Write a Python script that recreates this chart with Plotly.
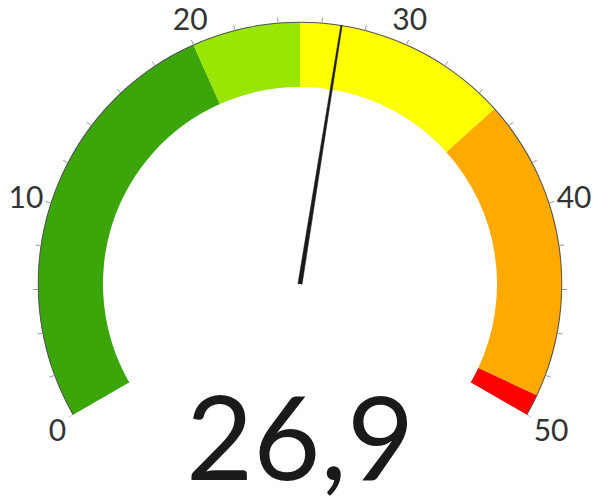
import plotly.graph_objects as go

# gauge data
gauge_min = 0
gauge_max = 50
value = 26.9

band_starts = [0, 20, 25, 35, 49]
band_ends = [20, 25, 35, 49, 50]
band_colors = ["#3aa60a", "#99e600", "#ffff00", "#ffaa00", "#ff0000"]

tick_values = list(range(0, 51, 2))
label_values = [0, 10, 20, 30, 40, 50]
label_sides = ["bottom left", "middle left", "top center",
               "top center", "middle right", "bottom right"]

SWEEP = 240  # degrees covered by the dial
deg = SWEEP / (gauge_max - gauge_min)
inner = 0.752
R_MAX = 1.05          # radial room for ticks / label anchors
RIM_PX = 262          # pixel radius of the outer rim
CX, CY = 292, 276     # dial centre in figure pixels (page has an 8px body margin)

fig = go.Figure()

# coloured bands
fig.add_trace(go.Barpolar(
    r=[1 - inner] * len(band_starts),
    base=[inner] * len(band_starts),
    theta=[(s + e) / 2 * deg for s, e in zip(band_starts, band_ends)],
    width=[(e - s) * deg for s, e in zip(band_starts, band_ends)],
    marker=dict(color=band_colors, line=dict(width=0)),
    hoverinfo="skip",
))

# thin outer rim along the whole dial
fig.add_trace(go.Barpolar(
    r=[0.004],
    base=[0.997],
    theta=[(gauge_min + gauge_max) / 2 * deg],
    width=[(gauge_max - gauge_min) * deg],
    marker=dict(color="#555555", line=dict(width=0)),
    hoverinfo="skip",
))

# tick marks outside the rim
tick_r, tick_t = [], []
for v in tick_values:
    tick_r += [1.0, 1.02, None]
    tick_t += [v * deg, v * deg, None]
fig.add_trace(go.Scatterpolar(
    r=tick_r, theta=tick_t,
    mode="lines",
    line=dict(color="#999999", width=1),
    connectgaps=False,
    hoverinfo="skip",
))

# tick labels, anchored just past the tick ends
fig.add_trace(go.Scatterpolar(
    r=[1.03] * len(label_values),
    theta=[v * deg for v in label_values],
    text=[str(v) for v in label_values],
    textposition=label_sides,
    mode="text",
    textfont=dict(family="Lato", size=30, color="#333333"),
    cliponaxis=False,
    hoverinfo="skip",
))

# needle, a thin tapered wedge
a = value * deg
fig.add_trace(go.Scatterpolar(
    r=[0.008, 1.0, 1.0, 0.008, 0.008],
    theta=[a - 90, a - 0.15, a + 0.15, a + 90, a - 90],
    mode="lines",
    fill="toself",
    fillcolor="#1a1a1a",
    line=dict(color="#1a1a1a", width=0.5),
    hoverinfo="skip",
))

full = RIM_PX * R_MAX
fig.update_layout(
    width=600,
    height=497,
    margin=dict(l=0, r=0, t=0, b=0),
    paper_bgcolor="white",
    showlegend=False,
    font=dict(family="Lato", color="#333333"),
    polar=dict(
        domain=dict(x=[(CX - full) / 600, (CX + full) / 600],
                    y=[1 - (CY + 0.5 * full) / 497, 1 - max(CY - full, 0) / 497]),
        sector=[-30, 210],
        bgcolor="white",
        bargap=0,
        radialaxis=dict(visible=False, range=[0, R_MAX]),
        angularaxis=dict(
            rotation=210,
            direction="clockwise",
            showgrid=False,
            showline=False,
            ticks="",
            showticklabels=False,
        ),
    ),
)

# big read-out of the current value (comma as decimal mark)
fig.add_annotation(
    text=f"{value:.1f}".replace(".", ","),
    x=CX / 600, y=1 - 427 / 497,
    xref="paper", yref="paper",
    xanchor="center", yanchor="middle",
    showarrow=False,
    font=dict(family="Lato", size=116, color="#1a1a1a"),
)

fig.write_html("out.html")
